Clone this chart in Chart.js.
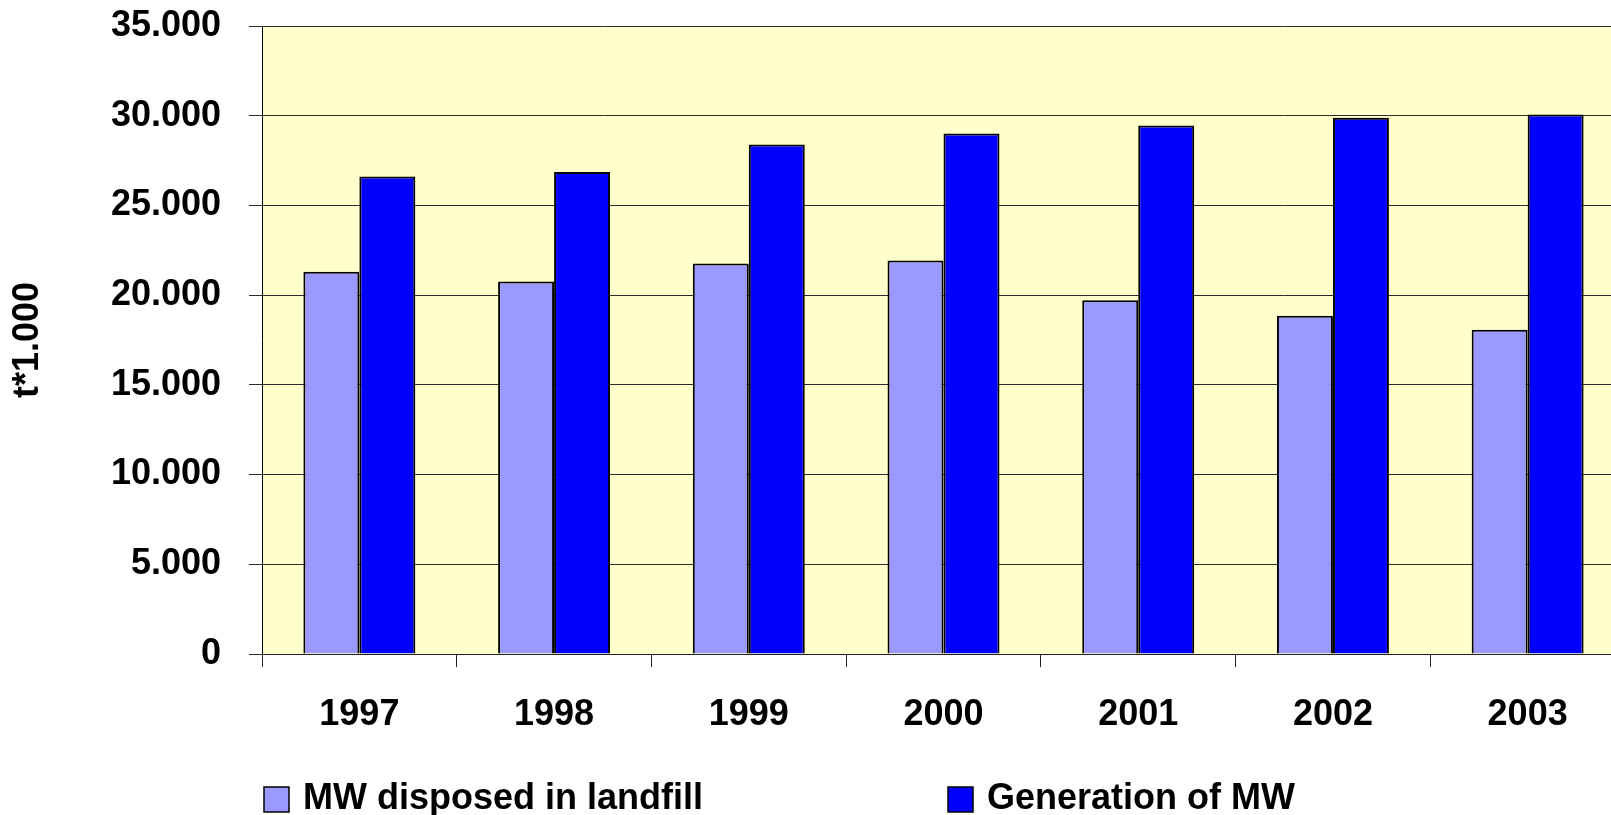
<!DOCTYPE html>
<html>
<head>
<meta charset="utf-8">
<script src="https://cdn.jsdelivr.net/npm/chart.js@4.4.1/dist/chart.umd.min.js"></script>
<style>
  html, body { margin: 0; padding: 0; background: #ffffff; overflow: hidden; }
  #wrap { width: 1640px; height: 815px; }
</style>
</head>
<body>
<div id="wrap"><canvas id="chart" width="1640" height="815"></canvas></div>
<script>
// Municipal waste, thousands of tonnes per year
const years = ['1997', '1998', '1999', '2000', '2001', '2002', '2003'];
const landfilled = [21300, 20760, 21760, 21930, 19720, 18850, 18070];
const generated = [26610, 26860, 28400, 29010, 29460, 29890, 30070];
const seriesNames = ['MW disposed in landfill', 'Generation of MW'];
const yAxisTitle = 't*1.000';

const FONT = { family: '"Liberation Sans", Arial, sans-serif', size: 36, weight: 'bold' };

function thousands(v) {
  return String(v).replace(/\B(?=(\d{3})+(?!\d))/g, '.');
}

// yellow plot background
const plotBackground = {
  id: 'plotBackground',
  beforeDraw(chart) {
    const { ctx, chartArea: a } = chart;
    ctx.save();
    ctx.fillStyle = '#FFFFCC';
    ctx.fillRect(a.left, a.top, a.right - a.left, a.bottom - a.top);
    ctx.restore();
  }
};

// legend row under the axis, one entry per dataset
const bottomLegend = {
  id: 'bottomLegend',
  afterDraw(chart) {
    const { ctx } = chart;
    const slots = [264, 948];
    ctx.save();
    ctx.font = `${FONT.weight} ${FONT.size}px ${FONT.family}`;
    ctx.textBaseline = 'alphabetic';
    ctx.textAlign = 'left';
    chart.data.datasets.forEach((ds, i) => {
      const x = slots[i];
      ctx.fillStyle = ds.backgroundColor;
      ctx.fillRect(x, 787, 25, 25);
      ctx.lineWidth = 1.5;
      ctx.strokeStyle = '#000';
      ctx.strokeRect(x, 787, 25, 25);
      ctx.fillStyle = '#000';
      ctx.fillText(ds.label, x + 39, 809);
    });
    ctx.restore();
  }
};

new Chart(document.getElementById('chart'), {
  type: 'bar',
  data: {
    labels: years,
    datasets: [
      {
        label: seriesNames[0],
        data: landfilled,
        backgroundColor: '#9999FF',
        borderColor: '#000000',
        borderWidth: 2
      },
      {
        label: seriesNames[1],
        data: generated,
        backgroundColor: '#0000FF',
        borderColor: '#000000',
        borderWidth: 2
      }
    ]
  },
  options: {
    responsive: false,
    animation: false,
    devicePixelRatio: 1,
    layout: { padding: { left: 0, top: 26, right: 15, bottom: 0 } },
    datasets: { bar: { categoryPercentage: 0.575, barPercentage: 1.0 } },
    plugins: {
      legend: { display: false },
      tooltip: { enabled: false }
    },
    scales: {
      x: {
        grid: {
          drawOnChartArea: false,
          drawTicks: true,
          tickLength: 13,
          color: '#222222',
          offset: true
        },
        border: { display: true, color: '#222222', width: 1 },
        ticks: { color: '#000', font: FONT, padding: 26, maxRotation: 0 },
        afterFit(scale) {
          scale.height = 161;
          scale.paddingLeft = 0;
          scale.paddingRight = 0;
        }
      },
      y: {
        min: 0,
        max: 35000,
        grid: {
          color: '#2a2a2a',
          lineWidth: 1,
          drawTicks: true,
          tickLength: 13
        },
        border: { display: true, color: '#000000', width: 1 },
        ticks: {
          stepSize: 5000,
          color: '#000',
          font: FONT,
          padding: 28,
          callback: (v) => thousands(v)
        },
        title: {
          display: true,
          text: yAxisTitle,
          color: '#000',
          font: FONT,
          padding: { top: 6, bottom: 0 }
        },
        afterFit(scale) {
          scale.width = 262;
          scale.paddingTop = 0;
          scale.paddingBottom = 0;
        }
      }
    }
  },
  plugins: [plotBackground, bottomLegend]
});
</script>
</body>
</html>
